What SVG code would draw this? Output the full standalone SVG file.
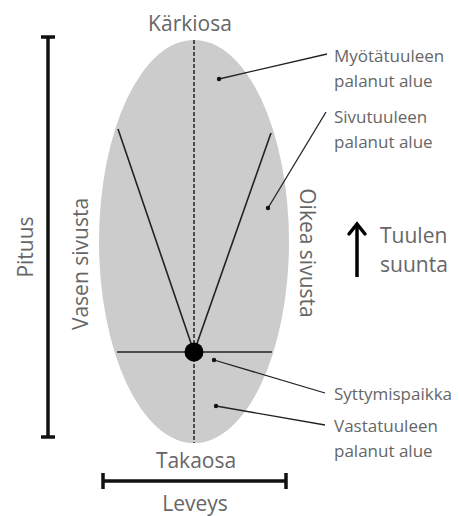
<svg xmlns="http://www.w3.org/2000/svg" width="459" height="516" viewBox="0 0 459 516">
<style>
.t{font-family:"Open Sans","Noto Sans",sans-serif;font-weight:400;fill:#666;}
.big{font-size:21px;}
.sm{font-size:17px;}
.ln{stroke:#222;stroke-width:1.6;fill:none;}
.ptr{stroke:#222;stroke-width:1.3;fill:none;}
.bar{stroke:#111;stroke-width:3.5;fill:none;}
</style>
<rect width="459" height="516" fill="#fff"/>
<g id="fire-area">
<ellipse cx="194" cy="241.5" rx="95" ry="201.5" fill="#cccccc"/>
<line x1="194" y1="40" x2="194" y2="443" stroke="#222" stroke-width="1.5" stroke-dasharray="4,2"/>
<line class="ln" x1="117" y1="352" x2="272" y2="352"/>
<line class="ln" x1="194" y1="352" x2="118" y2="129"/>
<line class="ln" x1="194" y1="352" x2="271" y2="133"/>
<circle cx="194" cy="352" r="9.5" fill="#000"/>
</g>
<g id="connectors">
<line class="ptr" x1="327" y1="54" x2="219" y2="79"/><circle cx="219" cy="79" r="2.2" fill="#111"/>
<line class="ptr" x1="326" y1="112" x2="268" y2="208"/><circle cx="268" cy="208" r="2.2" fill="#111"/>
<line class="ptr" x1="325" y1="393" x2="214" y2="360"/><circle cx="214" cy="360" r="2.2" fill="#111"/>
<line class="ptr" x1="325" y1="425" x2="216" y2="406"/><circle cx="216" cy="406" r="2.2" fill="#111"/>
</g>
<g id="length-bar">
<line class="bar" x1="48" y1="37" x2="48" y2="437"/>
<line class="bar" x1="41" y1="37" x2="55" y2="37"/>
<line class="bar" x1="41" y1="437" x2="55" y2="437"/>
<text class="t big" transform="translate(33,247) rotate(-90)" text-anchor="middle">Pituus</text>
</g>
<g id="width-bar">
<line class="bar" x1="103" y1="481" x2="286" y2="481"/>
<line class="bar" x1="103" y1="473" x2="103" y2="489"/>
<line class="bar" x1="286" y1="473" x2="286" y2="489"/>
<text class="t big" x="195" y="511" text-anchor="middle">Leveys</text>
</g>
<g id="labels">
<text class="t big" x="190" y="31" text-anchor="middle">Kärkiosa</text>
<text class="t big" x="196" y="468" text-anchor="middle">Takaosa</text>
<text class="t big" transform="translate(88,264) rotate(-90)" text-anchor="middle">Vasen sivusta</text>
<text class="t big" transform="translate(300,253) rotate(90)" text-anchor="middle">Oikea sivusta</text>
<text class="t sm" x="334" y="62">Myötätuuleen</text>
<text class="t sm" x="334" y="87">palanut alue</text>
<text class="t sm" x="334" y="123">Sivutuuleen</text>
<text class="t sm" x="334" y="148">palanut alue</text>
<text class="t sm" x="334" y="400">Syttymispaikka</text>
<text class="t sm" x="334" y="432">Vastatuuleen</text>
<text class="t sm" x="334" y="457">palanut alue</text>
</g>
<g id="wind">
<line x1="357" y1="277" x2="357" y2="225" stroke="#000" stroke-width="3.5"/>
<path d="M349,234 L357,224 L365,234" fill="none" stroke="#000" stroke-width="3.5" stroke-linecap="round" stroke-linejoin="miter"/>
<text class="t big" x="380" y="243">Tuulen</text>
<text class="t big" x="380" y="272">suunta</text>
</g>
</svg>
